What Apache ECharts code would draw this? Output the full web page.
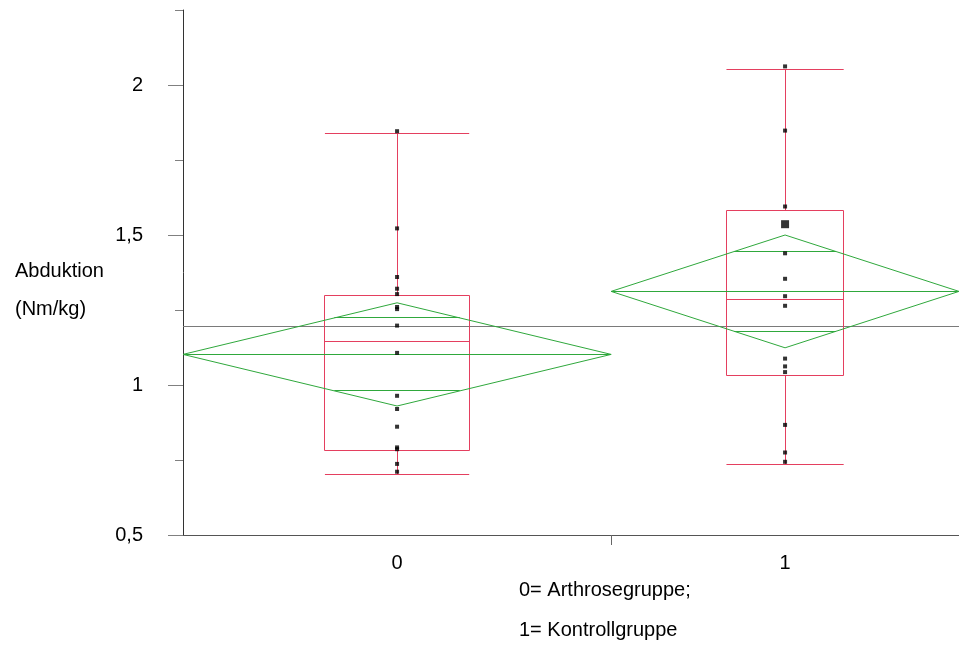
<!DOCTYPE html>
<html>
<head>
<meta charset="utf-8">
<script src="https://cdn.jsdelivr.net/npm/echarts@6/dist/echarts.min.js"></script>
<style>
  html, body { margin: 0; padding: 0; background: #fff; }
  #chart { width: 959px; height: 646px; }
</style>
</head>
<body>
<div id="chart"></div>
<script>
// groups on the x axis (relative widths as drawn)
const groupLabels = ['0', '1'];
const groupSpan = [16, 13];

const points0 = [0.711, 0.737, 0.786, 0.792, 0.861, 0.920, 0.964, 1.107, 1.198,
                 1.253, 1.260, 1.303, 1.321, 1.360, 1.522, 1.846];
const points1 = [0.744, 0.775, 0.867, 1.043, 1.062, 1.088, 1.264, 1.296, 1.354,
                 1.439, 1.536, 1.536, 1.536, 1.595, 1.848, 2.062];

// box plot stats per group
const boxMin = [0.702, 0.735];
const boxQ1 = [0.781, 1.032];
const boxMedian = [1.144, 1.285];
const boxQ3 = [1.298, 1.583];
const boxMax = [1.838, 2.052];

// means diamonds
const groupMean = [1.102, 1.312];
const ciUpper = [1.274, 1.500];
const ciLower = [0.930, 1.124];
const grandMean = 1.194;

const yMajor = [0.5, 1, 1.5, 2];
const yMinor = [0.75, 1.25, 1.75, 2.25];

const total = groupSpan.reduce((a, b) => a + b, 0);
function groupStart(i) {
  let s = 0;
  for (let k = 0; k < i; k++) s += groupSpan[k];
  return s;
}
function groupCenter(i) { return groupStart(i) + groupSpan[i] / 2; }

const RED = '#e43f5f';
const GREEN = '#2fa83c';
const FONT = 'Liberation Sans, Arial, sans-serif';
const FS = 20;

// snap to pixel centres so 1px lines stay crisp
const px = v => Math.round(v - 0.5) + 0.5;

function line(api, a, b, color) {
  const p = api.coord(a), q = api.coord(b);
  let x1 = p[0], y1 = p[1], x2 = q[0], y2 = q[1];
  if (Math.abs(y1 - y2) < 0.01) { y1 = y2 = px(y1); }
  if (Math.abs(x1 - x2) < 0.01) { x1 = x2 = px(x1); }
  return {
    type: 'line',
    shape: { x1, y1, x2, y2 },
    style: { stroke: color, lineWidth: 1 }
  };
}

function renderBox(params, api) {
  const i = api.value(0);
  const cx = groupCenter(i);
  const half = groupSpan[i] * 0.337 / 2;
  const tl = api.coord([cx - half, boxQ3[i]]).map(px);
  const br = api.coord([cx + half, boxQ1[i]]).map(px);
  return {
    type: 'group',
    children: [
      { type: 'rect', shape: { x: tl[0], y: tl[1], width: br[0] - tl[0], height: br[1] - tl[1] },
        style: { fill: 'none', stroke: RED, lineWidth: 1 } },
      line(api, [cx - half, boxMedian[i]], [cx + half, boxMedian[i]], RED),
      line(api, [cx, boxQ3[i]], [cx, boxMax[i]], RED),
      line(api, [cx - half, boxMax[i]], [cx + half, boxMax[i]], RED),
      line(api, [cx, boxQ1[i]], [cx, boxMin[i]], RED),
      line(api, [cx - half, boxMin[i]], [cx + half, boxMin[i]], RED)
    ]
  };
}

function renderDiamond(params, api) {
  const i = api.value(0);
  const x0 = groupStart(i), x1 = x0 + groupSpan[i], cx = groupCenter(i);
  const m = groupMean[i];
  const pts = [[x0, m], [cx, ciUpper[i]], [x1, m], [cx, ciLower[i]]].map(p => api.coord(p));
  const dUp = (ciUpper[i] - m) / Math.SQRT2;
  const dLo = (m - ciLower[i]) / Math.SQRT2;
  const w = groupSpan[i] / 2 * (1 - 1 / Math.SQRT2);
  return {
    type: 'group',
    children: [
      { type: 'polygon', shape: { points: pts }, style: { fill: 'none', stroke: GREEN, lineWidth: 1 } },
      line(api, [x0, m], [x1, m], GREEN),
      line(api, [cx - w, m + dUp], [cx + w, m + dUp], GREEN),
      line(api, [cx - w, m - dLo], [cx + w, m - dLo], GREEN)
    ]
  };
}

function renderGrand(params, api) {
  return line(api, [0, grandMean], [total, grandMean], '#7a7a7a');
}

function pointData(values, gi) {
  const counts = {};
  values.forEach(v => { counts[v] = (counts[v] || 0) + 1; });
  return Object.keys(counts).map(k => ({
    value: [groupCenter(gi), Number(k)],
    symbolSize: counts[k] > 2 ? 8 : 4
  }));
}

const chart = echarts.init(document.getElementById('chart'));
chart.setOption({
  animation: false,
  backgroundColor: '#fff',
  textStyle: { fontFamily: FONT },
  title: [
    { text: 'Abduktion\n(Nm/kg)', left: 15, top: 252, padding: 0,
      textStyle: { fontFamily: FONT, fontSize: FS, fontWeight: 'normal', color: '#000', lineHeight: 38 } },
    { text: '0= Arthrosegruppe;\n1= Kontrollgruppe', left: 519, top: 570, padding: 0,
      textStyle: { fontFamily: FONT, fontSize: FS, fontWeight: 'normal', color: '#000', lineHeight: 40 } }
  ],
  grid: { left: 183, right: 0, top: 10, bottom: 111, containLabel: false },
  xAxis: {
    type: 'value', min: 0, max: total,
    splitLine: { show: false },
    axisLine: { onZero: false, lineStyle: { color: '#555', width: 1 } },
    axisTick: { show: true, customValues: [groupStart(1)], length: 10, lineStyle: { color: '#666' } },
    axisLabel: {
      customValues: groupLabels.map((_, i) => groupCenter(i)),
      formatter: v => groupLabels[v < groupStart(1) ? 0 : 1],
      margin: 18, fontSize: FS, color: '#000', fontFamily: FONT
    }
  },
  yAxis: [
    {
      type: 'value', min: 0.5, max: 2.25, position: 'left',
      splitLine: { show: false },
      axisLine: { show: true, onZero: false, lineStyle: { color: '#333', width: 1 } },
      axisTick: { show: true, customValues: yMinor, length: 8, lineStyle: { color: '#808080' } },
      axisLabel: { show: false }
    },
    {
      type: 'value', min: 0.5, max: 2.25, position: 'left',
      splitLine: { show: false },
      axisLine: { show: false },
      axisTick: { show: true, customValues: yMajor, length: 15, lineStyle: { color: '#808080' } },
      axisLabel: {
        customValues: yMajor,
        formatter: v => String(v).replace('.', ','),
        margin: 40, fontSize: FS, color: '#000', fontFamily: FONT
      }
    }
  ],
  series: [
    { type: 'custom', renderItem: renderGrand, data: [[0]], silent: true, clip: false },
    { type: 'custom', renderItem: renderBox, data: [[0], [1]], silent: true, clip: false },
    { type: 'custom', renderItem: renderDiamond, data: [[0], [1]], silent: true, clip: false },
    { type: 'scatter', symbol: 'rect', data: pointData(points0, 0), itemStyle: { color: '#000' }, silent: true },
    { type: 'scatter', symbol: 'rect', data: pointData(points1, 1), itemStyle: { color: '#000' }, silent: true }
  ]
});
</script>
</body>
</html>
